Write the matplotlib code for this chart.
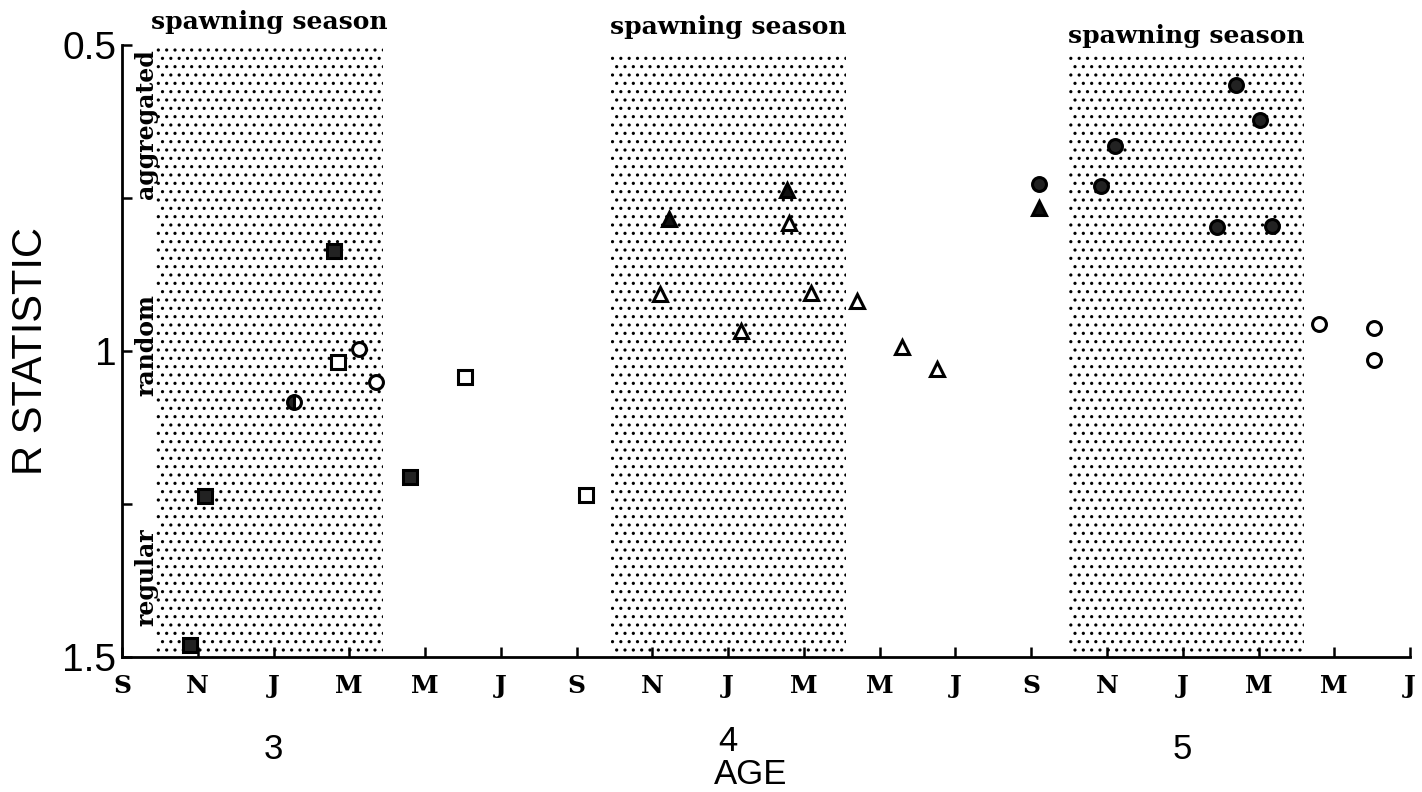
import numpy as np
import matplotlib
matplotlib.use('Agg')
import matplotlib.pyplot as plt
import matplotlib.transforms as mtransforms

# x = months since September of age 3 (S=0, N=2, J=4, ...)
month_ticks = list(range(0, 35, 2))
month_labels = ['S', 'N', 'J', 'M', 'M', 'J'] * 3
y_ticks = [0.5, 1, 1.5]
y_ticklabels = ['0.5', '1', '1.5']
age_pos = [4, 16, 28]
age_labels = ['3', '4', '5']
spawn_start = [0.9, 12.9, 25.0]
spawn_end = [6.9, 19.1, 31.2]
spawn_top = [0.505, 0.515, 0.515]

filled_sq_x = [1.8, 2.2, 5.6, 7.6]
filled_sq_y = [1.48, 1.237, 0.836, 1.206]
open_sq_x = [5.7, 9.05, 12.25]
open_sq_y = [1.018, 1.043, 1.235]
half_x = [4.55]
half_y = [1.084]
open_circ3_x = [6.25, 6.7]
open_circ3_y = [0.996, 1.051]
open_tri_x = [14.2, 16.35, 17.6, 18.2, 19.4, 20.6, 21.5]
open_tri_y = [0.907, 0.968, 0.791, 0.905, 0.919, 0.994, 1.029]
filled_tri_x = [14.45, 17.55, 24.2]
filled_tri_y = [0.784, 0.737, 0.766]
filled_circ_x = [24.2, 25.85, 26.2, 28.9, 29.4, 30.05, 30.35]
filled_circ_y = [0.727, 0.731, 0.665, 0.798, 0.565, 0.622, 0.795]
open_circ5_x = [31.6, 33.05, 33.05]
open_circ5_y = [0.956, 0.963, 1.015]

plt.rcParams['hatch.linewidth'] = 1.1
sans = 'Liberation Sans'
serif = 'DejaVu Serif'

fig = plt.figure(figsize=(14.22, 7.92), dpi=100)
ax = fig.add_axes([0.0858, 0.1705, 0.9058, 0.7727])
xtr = mtransforms.blended_transform_factory(ax.transData, ax.transAxes)

# spawning season shading
label_h = [1.038, 1.03, 1.015]
for x0, x1, top, lh in zip(spawn_start, spawn_end, spawn_top, label_h):
    ax.fill_between([x0, x1], [1.5, 1.5], [top, top], facecolor='white',
                    edgecolor='black', hatch='..', linewidth=0, zorder=1)
    ax.text((x0 + x1) / 2, lh, 'spawning season', transform=xtr,
            ha='center', va='center', fontsize=18, fontweight='bold', family=serif)

mk = dict(linestyle='none', markersize=10, markeredgewidth=2.2, color='black', zorder=3)
ax.plot(filled_sq_x, filled_sq_y, marker='s', markerfacecolor='#222222', **mk)
ax.plot(open_sq_x, open_sq_y, marker='s', markerfacecolor='white', **mk)
ax.plot(half_x, half_y, marker='o', fillstyle='left', markerfacecoloralt='white', markerfacecolor='#222222', **mk)
ax.plot(open_circ3_x, open_circ3_y, marker='o', markerfacecolor='white', **mk)
ax.plot(open_tri_x, open_tri_y, marker='^', markerfacecolor='white', **mk)
ax.plot(filled_tri_x, filled_tri_y, marker='^', markerfacecolor='#111111', **mk)
ax.plot(filled_circ_x, filled_circ_y, marker='o', markerfacecolor='#222222', **mk)
ax.plot(open_circ5_x, open_circ5_y, marker='o', markerfacecolor='white', **mk)

ax.set_xlim(0, 34)
ax.set_ylim(1.5, 0.5)
ax.spines['top'].set_visible(False)
ax.spines['right'].set_visible(False)
ax.spines['left'].set_linewidth(2)
ax.spines['bottom'].set_linewidth(2)

ax.set_xticks(month_ticks)
ax.set_xticklabels(month_labels, fontsize=18, fontweight='bold', family=serif)
ax.set_yticks(y_ticks)
ax.set_yticklabels(y_ticklabels, fontsize=28, family=sans)
ax.set_yticks([0.75, 1.25], minor=True)
ax.tick_params(axis='both', which='both', direction='in', length=7, width=1.8)
ax.tick_params(axis='x', pad=12)
ax.tick_params(axis='y', pad=4)

# pattern labels along the y axis
ytr = mtransforms.blended_transform_factory(ax.transAxes, ax.transData)
for lab, yv in zip(['aggregated', 'random', 'regular'], [0.63, 0.99, 1.37]):
    ax.text(0.019, yv, lab, transform=ytr, rotation=90, ha='center', va='center',
            fontsize=17, fontweight='bold', family=serif)

# age labels under the month ticks
age_h = [-0.152, -0.138, -0.152]
for xp, lab, hh in zip(age_pos, age_labels, age_h):
    ax.text(xp, hh, lab, transform=xtr, ha='center', va='center', fontsize=25, family=sans)
ax.text(16.6, -0.192, 'AGE', transform=xtr, ha='center', va='center', fontsize=25, family=sans)

ax.set_ylabel('R STATISTIC', fontsize=30, family=sans, labelpad=8)

fig.savefig('out.png', dpi=100)
